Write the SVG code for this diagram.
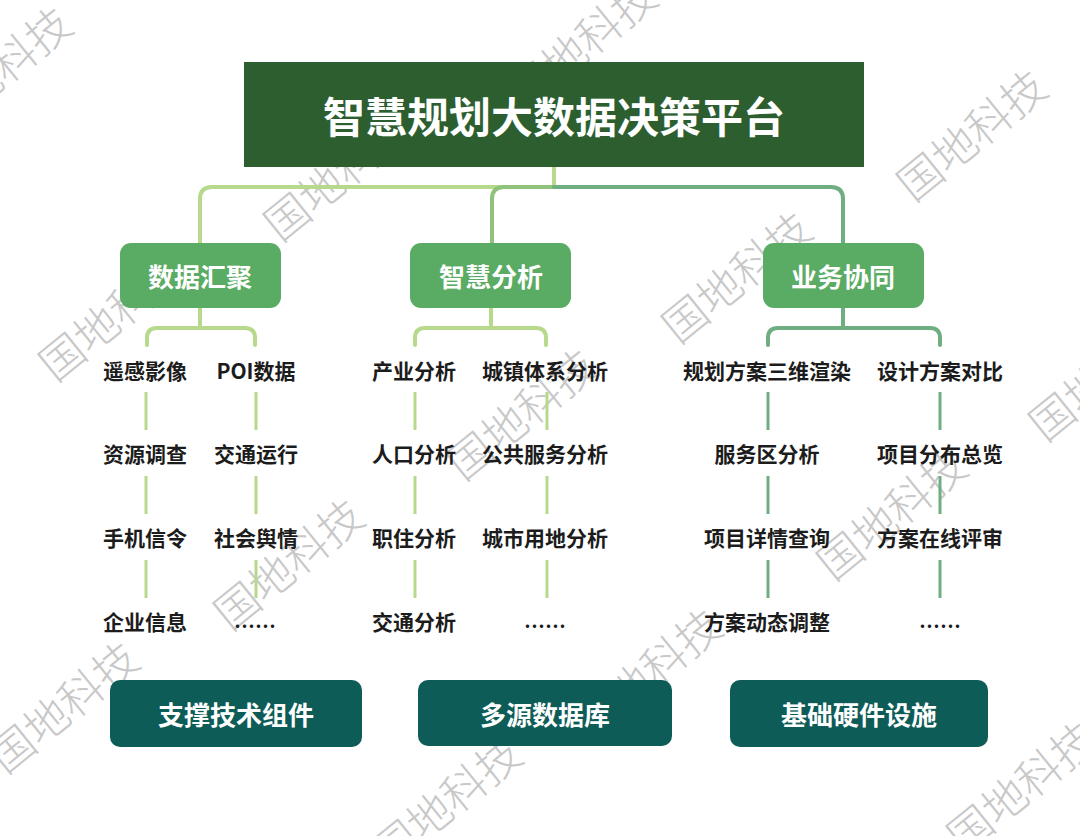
<svg xmlns="http://www.w3.org/2000/svg" width="1080" height="836" viewBox="0 0 1080 836">
<style>
.wm{font-family:"Noto Sans CJK SC","Noto Sans",sans-serif;font-size:44px;font-weight:300;fill:#c8c8c8;text-anchor:middle;dominant-baseline:central}
.title{font-family:"Noto Sans CJK SC","Noto Sans",sans-serif;font-size:42px;font-weight:700;fill:#ffffff;text-anchor:middle;dominant-baseline:central}
.l2{font-family:"Noto Sans CJK SC","Noto Sans",sans-serif;font-size:26px;font-weight:700;fill:#ffffff;text-anchor:middle;dominant-baseline:central}
.item{font-family:"Noto Sans CJK SC","Noto Sans",sans-serif;font-size:21px;font-weight:700;fill:#1c1c1c;text-anchor:middle;dominant-baseline:central}
.base{font-family:"Noto Sans CJK SC","Noto Sans",sans-serif;font-size:26px;font-weight:700;fill:#ffffff;text-anchor:middle;dominant-baseline:central}
.cl{fill:none;stroke:#b6d98c;stroke-width:4;stroke-linecap:round}
.cm{fill:none;stroke:#8fc27a;stroke-width:4;stroke-linecap:round}
.cr{fill:none;stroke:#6fae80;stroke-width:4;stroke-linecap:round}
.dl{stroke:#b6d98c;stroke-width:3}
.dr{stroke:#6fae80;stroke-width:3}
.n2{fill:#5aab63}
.n3{fill:#0e5c57}
</style>
<rect x="0" y="0" width="1080" height="836" fill="#ffffff"/>
<g id="watermark">
<text class="wm" transform="translate(-5,70) rotate(-39)">国地科技</text>
<text class="wm" transform="translate(580,42) rotate(-39)">国地科技</text>
<text class="wm" transform="translate(970,133) rotate(-39)">国地科技</text>
<text class="wm" transform="translate(337,173) rotate(-39)">国地科技</text>
<text class="wm" transform="translate(735,275) rotate(-39)">国地科技</text>
<text class="wm" transform="translate(112,313) rotate(-39)">国地科技</text>
<text class="wm" transform="translate(520,412) rotate(-39)">国地科技</text>
<text class="wm" transform="translate(1102,373) rotate(-39)">国地科技</text>
<text class="wm" transform="translate(890,512) rotate(-39)">国地科技</text>
<text class="wm" transform="translate(287,562) rotate(-39)">国地科技</text>
<text class="wm" transform="translate(62,705) rotate(-39)">国地科技</text>
<text class="wm" transform="translate(645,672) rotate(-39)">国地科技</text>
<text class="wm" transform="translate(445,800) rotate(-39)">国地科技</text>
<text class="wm" transform="translate(1020,785) rotate(-39)">国地科技</text>
</g>
<g id="connectors">
<path class="cl" d="M554,167 V187 H212 Q200,187 200,199 V243"/>
<path class="cm" d="M554,187 H504 Q492,187 492,199 V243"/>
<path class="cr" d="M554,187 H831 Q843,187 843,199 V243"/>
<path class="cl" d="M200,308 V328 M147,345 V338 Q147,328 157,328 H245 Q255,328 255,338 V345"/>
<path class="cl" d="M491,308 V328 M415,345 V338 Q415,328 425,328 H536 Q546,328 546,338 V345"/>
<path class="cr" d="M843,308 V328 M768,345 V338 Q768,328 778,328 H930 Q940,328 940,338 V345"/>
<g class="dl">
<line x1="146" y1="392" x2="146" y2="430"/><line x1="146" y1="476" x2="146" y2="514"/><line x1="146" y1="560" x2="146" y2="598"/>
<line x1="256" y1="392" x2="256" y2="430"/><line x1="256" y1="476" x2="256" y2="514"/><line x1="256" y1="560" x2="256" y2="598"/>
<line x1="415" y1="392" x2="415" y2="430"/><line x1="415" y1="476" x2="415" y2="514"/><line x1="415" y1="560" x2="415" y2="598"/>
<line x1="547" y1="392" x2="547" y2="430"/><line x1="547" y1="476" x2="547" y2="514"/><line x1="547" y1="560" x2="547" y2="598"/>
</g>
<g class="dr">
<line x1="768" y1="392" x2="768" y2="430"/><line x1="768" y1="476" x2="768" y2="514"/><line x1="768" y1="560" x2="768" y2="598"/>
<line x1="940" y1="392" x2="940" y2="430"/><line x1="940" y1="476" x2="940" y2="514"/><line x1="940" y1="560" x2="940" y2="598"/>
</g>
</g>
<g id="root">
<rect x="244" y="62" width="620" height="105" fill="#2c5e30"/>
<text class="title" x="554" y="114">智慧规划大数据决策平台</text>
</g>
<g id="n-data">
<rect class="n2" x="120" y="243" width="161" height="65" rx="11"/>
<text class="l2" x="200" y="275">数据汇聚</text>
</g>
<g id="n-analysis">
<rect class="n2" x="410" y="243" width="161" height="65" rx="11"/>
<text class="l2" x="491" y="275">智慧分析</text>
</g>
<g id="n-business">
<rect class="n2" x="763" y="243" width="161" height="65" rx="11"/>
<text class="l2" x="843" y="275">业务协同</text>
</g>
<g id="items-data">
<text class="item" x="145" y="370">遥感影像</text>
<text class="item" x="145" y="453">资源调查</text>
<text class="item" x="145" y="537">手机信令</text>
<text class="item" x="145" y="621">企业信息</text>
<text class="item" x="256" y="370">POI数据</text>
<text class="item" x="256" y="453">交通运行</text>
<text class="item" x="256" y="537">社会舆情</text>
<text class="item" x="255" y="625">……</text>
</g>
<g id="items-analysis">
<text class="item" x="414" y="370">产业分析</text>
<text class="item" x="414" y="453">人口分析</text>
<text class="item" x="414" y="537">职住分析</text>
<text class="item" x="414" y="621">交通分析</text>
<text class="item" x="545" y="370">城镇体系分析</text>
<text class="item" x="545" y="453">公共服务分析</text>
<text class="item" x="545" y="537">城市用地分析</text>
<text class="item" x="545" y="625">……</text>
</g>
<g id="items-business">
<text class="item" x="767" y="370">规划方案三维渲染</text>
<text class="item" x="767" y="453">服务区分析</text>
<text class="item" x="767" y="537">项目详情查询</text>
<text class="item" x="767" y="621">方案动态调整</text>
<text class="item" x="940" y="370">设计方案对比</text>
<text class="item" x="940" y="453">项目分布总览</text>
<text class="item" x="940" y="537">方案在线评审</text>
<text class="item" x="940" y="625">……</text>
</g>
<g id="b-support">
<rect class="n3" x="110" y="680" width="252" height="67" rx="10"/>
<text class="base" x="236" y="713">支撑技术组件</text>
</g>
<g id="b-db">
<rect class="n3" x="418" y="680" width="254" height="66" rx="10"/>
<text class="base" x="545" y="713">多源数据库</text>
</g>
<g id="b-hw">
<rect class="n3" x="730" y="680" width="258" height="67" rx="10"/>
<text class="base" x="859" y="713">基础硬件设施</text>
</g>
</svg>
